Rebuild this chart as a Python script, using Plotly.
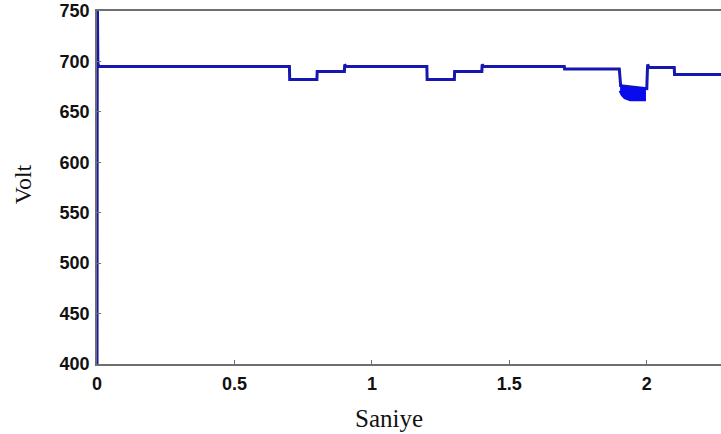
import plotly.graph_objects as go

# DC bus voltage over time (step changes in load)
time_s = [0, 0.001, 0.003, 0.006, 0.70, 0.701, 0.80, 0.801, 0.90, 0.901, 0.906,
          1.20, 1.201, 1.30, 1.301, 1.40, 1.401, 1.406, 1.70, 1.701, 1.90, 1.905,
          1.995, 2.00, 2.003, 2.008, 2.10, 2.101, 2.5]
volt = [380, 780, 699, 695, 695, 682, 682, 690, 690, 697, 695,
        695, 682, 682, 690, 690, 697, 695, 695, 692.5, 692.5, 676,
        673, 673, 697, 694, 694, 687, 687]

# Ripple envelope during the 1.9-2.0 s interval
band_t = [1.903, 1.91, 1.92, 1.94, 1.96, 1.98, 1.997]
band_hi = [677, 675, 674, 673, 673, 673, 673]
band_lo = [671, 667, 664, 662, 662, 662, 662]

x_ticks = [0, 0.5, 1, 1.5, 2]
x_tick_text = ["0", "0.5", "1", "1.5", "2"]
y_ticks = [400, 450, 500, 550, 600, 650, 700, 750]

line_color = "#1616b0"
fill_color = "#0a0aee"

fig = go.Figure()
fig.add_trace(go.Scatter(x=time_s, y=volt, mode="lines",
                         line=dict(color=line_color, width=3), showlegend=False))
fig.add_trace(go.Scatter(x=band_t, y=band_hi, mode="lines",
                         line=dict(color=fill_color, width=3), showlegend=False))
fig.add_trace(go.Scatter(x=band_t, y=band_lo, mode="lines", fill="tonexty",
                         fillcolor=fill_color,
                         line=dict(color=fill_color, width=3), showlegend=False))

tick_font = dict(family="Liberation Sans", size=18, color="#111111", weight="bold")
fig.update_layout(
    width=721, height=434,
    margin=dict(l=97, r=0, t=11, b=70),
    paper_bgcolor="white", plot_bgcolor="white",
    xaxis=dict(range=[0, 2.27], tickvals=x_ticks, ticktext=x_tick_text,
               showgrid=False, zeroline=False, showline=True, mirror=True,
               linecolor="#6e6e6e", linewidth=1.5, ticks="inside", ticklen=4,
               tickcolor="#6e6e6e", tickfont=tick_font, ticklabelstandoff=3),
    yaxis=dict(range=[400, 750], tickvals=y_ticks, showgrid=False, zeroline=False,
               showline=True, linecolor="#6e6e6e", linewidth=1.5, ticks="inside",
               ticklen=4, tickcolor="#6e6e6e", tickfont=tick_font,
               ticklabelstandoff=2),
    annotations=[
        dict(text="Saniye", x=1.062, xref="x", y=-0.153, yref="paper",
             showarrow=False, xanchor="center", yanchor="middle",
             font=dict(family="Liberation Serif", size=25, color="#111111")),
        dict(text="Volt", x=-0.118, xref="paper", y=0.51, yref="paper",
             showarrow=False, textangle=-90, xanchor="center", yanchor="middle",
             font=dict(family="Liberation Serif", size=24, color="#111111")),
    ],
)

fig.write_html("out.html")
